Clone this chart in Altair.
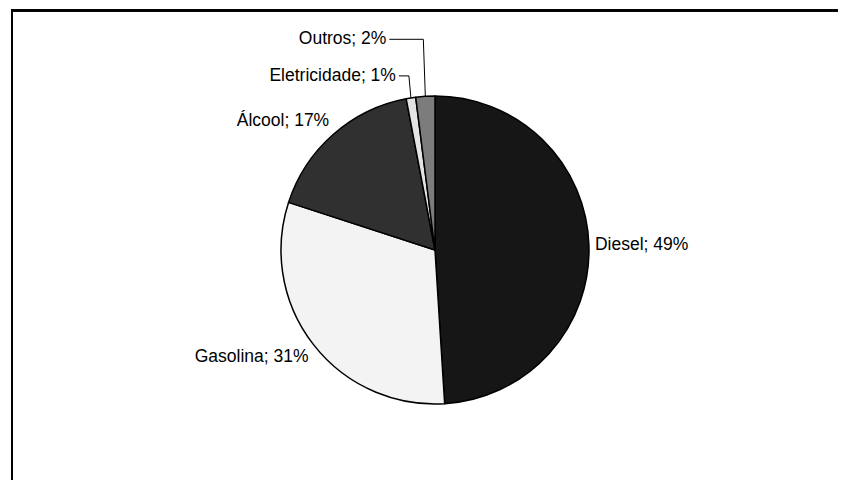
import math
import altair as alt
import pandas as pd

# ---- data ----
categories = ["Diesel", "Gasolina", "Álcool", "Eletricidade", "Outros"]
shares = [49, 31, 17, 1, 2]
fills = ["#161616", "#f3f3f3", "#303030", "#e4e4e4", "#7c7c7c"]

# ---- layout (styling, not data) ----
W, H = 830, 472
CX, CY, R = 427, 242, 154
GAP = 6
FONT = "Liberation Sans"
FS = 17.5
# labels that were pulled away from their slice, with a leader line:
# (height of the label above the pie edge, horizontal hook length)
moved = {"Eletricidade": (22, 10), "Outros": (57, 34)}

total = sum(shares)
rows, lead = [], []
cum = 0.0
for i, (c, v) in enumerate(zip(categories, shares)):
    mid = (cum + v / 2) / total * 2 * math.pi
    cum += v
    s, co = math.sin(mid), math.cos(mid)
    text = f"{c}; {v}%"
    if c in moved:
        lift, hook = moved[c]
        ex, ey = CX + R * s, CY - R * co
        elx, ely = ex - 2, ey - lift
        tx, ty = elx - hook - 3, ely
        lead += [
            {"cat": c, "seq": 0, "x": ex, "y": ey},
            {"cat": c, "seq": 1, "x": elx, "y": ely},
            {"cat": c, "seq": 2, "x": elx - hook, "y": ely},
        ]
        side = "right"
    else:
        r = R + GAP
        tx, ty = CX + r * s, CY - r * co
        side = "left" if s > 0.1 else ("right" if s < -0.1 else "center")
        if co > 0.3:
            ty -= FS * 0.5
        elif co < -0.3:
            ty += FS * 0.5
    rows.append({"cat": c, "value": v, "order": i, "label": text,
                 "tx": tx, "ty": ty, "side": side})

df = pd.DataFrame(rows)
dl = pd.DataFrame(lead)

pie = alt.Chart(df).mark_arc(
    outerRadius=R, stroke="black", strokeWidth=1.5, strokeJoin="round"
).encode(
    theta=alt.Theta("value:Q", stack=True),
    order=alt.Order("order:Q"),
    color=alt.Color("cat:N", scale=alt.Scale(domain=categories, range=fills), legend=None),
    x=alt.value(CX),
    y=alt.value(CY),
)

def labels(side):
    return alt.Chart(df).transform_filter(alt.datum.side == side).mark_text(
        align=side, baseline="middle", font=FONT, fontSize=FS, color="black"
    ).encode(
        x=alt.X("tx:Q", scale=None),
        y=alt.Y("ty:Q", scale=None),
        text="label:N",
    )

leaders = alt.Chart(dl).mark_line(color="black", strokeWidth=1).encode(
    x=alt.X("x:Q", scale=None),
    y=alt.Y("y:Q", scale=None),
    detail="cat:N",
    order="seq:Q",
)

frame_top = alt.Chart(df).mark_rule(color="black", strokeWidth=2).encode(
    x=alt.value(3), x2=alt.value(W + 20), y=alt.value(2.5)
)
frame_left = alt.Chart(df).mark_rule(color="black", strokeWidth=2).encode(
    x=alt.value(4), y=alt.value(1.5), y2=alt.value(H + 20)
)

chart = alt.layer(
    frame_top, frame_left, pie, leaders, labels("left"), labels("right"), labels("center")
).properties(
    width=W, height=H, autosize=alt.AutoSizeParams(type="none"), padding=0
).configure_view(stroke=None)

chart.save("out.html", embed_options={"renderer": "svg", "actions": False})
